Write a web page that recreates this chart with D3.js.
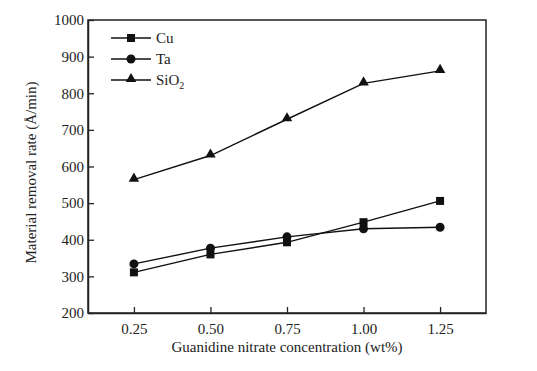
<!DOCTYPE html>
<html>
<head>
<meta charset="utf-8">
<script src="https://cdn.jsdelivr.net/npm/d3@7"></script>
<style>
body { margin: 0; background: #fff; }
text { font-family: "Liberation Serif", "Times New Roman", serif; fill: #222; }
</style>
</head>
<body>
<div id="chart-area"></div>
<script>
var concentrations = [0.25, 0.50, 0.75, 1.00, 1.25];
var cuRates = [311, 360, 393, 448, 506];
var taRates = [334, 377, 408, 430, 434];
var sio2Rates = [564, 630, 729, 827, 861];
var xTicks = [0.25, 0.50, 0.75, 1.00, 1.25];
var yTicks = [200, 300, 400, 500, 600, 700, 800, 900, 1000];

var series = [
    { name: "Cu", values: cuRates, marker: "square" },
    { name: "Ta", values: taRates, marker: "circle" },
    { name: "SiO2", values: sio2Rates, marker: "triangle" }
];

var plotL = 88, plotT = 20, plotR = 486, plotB = 313;

var svg = d3.select("#chart-area")
    .append("svg")
    .attr("width", 537)
    .attr("height", 371);

var x = d3.scaleLinear().domain([0.1, 1.4]).range([plotL, plotR]);
var y = d3.scaleLinear().domain([200, 1000]).range([plotB, plotT]);

// frame
svg.append("rect")
    .attr("x", plotL).attr("y", plotT)
    .attr("width", plotR - plotL).attr("height", plotB - plotT)
    .attr("fill", "none").attr("stroke", "#222").attr("stroke-width", 1.5);

var xAxis = svg.append("g")
    .attr("transform", "translate(0," + plotB + ")")
    .call(d3.axisBottom(x).tickValues(xTicks).tickSizeInner(-6).tickSizeOuter(0)
        .tickPadding(10).tickFormat(d3.format(".2f")));
var yAxis = svg.append("g")
    .attr("transform", "translate(" + plotL + ",0)")
    .call(d3.axisLeft(y).tickValues(yTicks).tickSizeInner(-6).tickSizeOuter(0)
        .tickPadding(4).tickFormat(d3.format("d")));
[xAxis, yAxis].forEach((g) => {
    g.select(".domain").attr("stroke", "#222").attr("stroke-width", 1.5);
    g.selectAll(".tick line").attr("stroke", "#222").attr("stroke-width", 1.3);
    g.selectAll("text").attr("font-size", 15).attr("font-family", "Liberation Serif").attr("fill", "#222");
});

svg.append("text")
    .attr("x", (plotL + plotR) / 2).attr("y", 352)
    .attr("text-anchor", "middle").attr("font-size", 15)
    .text("Guanidine nitrate concentration (wt%)");

svg.append("text")
    .attr("transform", "translate(36," + ((plotT + plotB) / 2 + 6) + ") rotate(-90)")
    .attr("text-anchor", "middle").attr("font-size", 15)
    .text("Material removal rate (Å/min)");

function drawMarker(g, type, cx, cy) {
    if (type === "square") {
        g.append("rect").attr("x", cx - 4).attr("y", cy - 4).attr("width", 8).attr("height", 8).attr("fill", "#111");
    } else if (type === "circle") {
        g.append("circle").attr("cx", cx).attr("cy", cy).attr("r", 4.5).attr("fill", "#111");
    } else {
        g.append("path").attr("d", d3.symbol().type(d3.symbolTriangle).size(48)()).attr("transform", "translate(" + cx + "," + (cy - 1) + ")").attr("fill", "#111");
    }
}

var line = d3.line().x((d) => x(d[0])).y((d) => y(d[1]));

series.forEach((s) => {
    var pts = concentrations.map((c, i) => [c, s.values[i]]);
    svg.append("path").datum(pts)
        .attr("d", line).attr("fill", "none").attr("stroke", "#111").attr("stroke-width", 1.4);
    var g = svg.append("g");
    pts.forEach((p) => drawMarker(g, s.marker, x(p[0]), y(p[1])));
});

// legend
series.forEach((s, i) => {
    var ly = 38 + i * 21;
    var g = svg.append("g");
    g.append("line").attr("x1", 111).attr("x2", 151).attr("y1", ly).attr("y2", ly)
        .attr("stroke", "#111").attr("stroke-width", 1.4);
    drawMarker(g, s.marker, 131, ly);
    var t = g.append("text").attr("x", 156).attr("y", ly + 5).attr("font-size", 15);
    if (s.name === "SiO2") {
        t.append("tspan").text("SiO");
        t.append("tspan").attr("font-size", 10).attr("dy", 4).text("2");
    } else {
        t.text(s.name);
    }
});
</script>
</body>
</html>
